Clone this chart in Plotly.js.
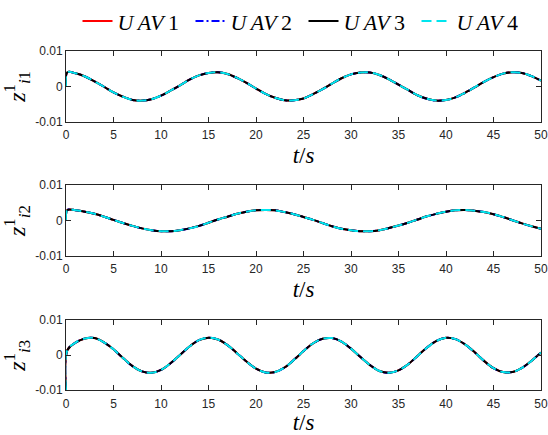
<!DOCTYPE html>
<html>
<head>
<meta charset="utf-8">
<script src="https://cdn.plot.ly/plotly-3.0.1.min.js"></script>
<style>html,body{margin:0;padding:0;background:#fff;}#chart{width:548px;height:435px;}</style>
</head>
<body>
<div id="chart"></div>
<script>
// time samples (s)
const time = [0, 0.15, 1, 2, 3, 4, 5, 6, 7, 8, 9, 10, 11, 12, 13, 14, 15, 16, 17, 18, 19, 20,
  21, 22, 23, 24, 25, 26, 27, 28, 29, 30, 31, 32, 33, 34, 35, 36, 37, 38, 39, 40,
  41, 42, 43, 44, 45, 46, 47, 48, 49, 50];

// z_{i1}^1 (all UAVs coincide)
const zi1 = [0, 0.0040,
  0.0037, 0.0028, 0.0014, -0.0001, -0.0017, -0.0029, -0.0038, -0.0040, -0.0036, -0.0026,
  -0.0012, 0.0003, 0.0019, 0.0031, 0.0038, 0.0040, 0.0035, 0.0024, 0.0010, -0.0006,
  -0.0021, -0.0032, -0.0039, -0.0039, -0.0034, -0.0022, -0.0008, 0.0008, 0.0023, 0.0034,
  0.0039, 0.0039, 0.0032, 0.0020, 0.0005, -0.0010, -0.0025, -0.0035, -0.0040, -0.0038,
  -0.0031, -0.0018, -0.0003, 0.0013, 0.0026, 0.0036, 0.0040, 0.0038, 0.0029, 0.0016];

// z_{i2}^1
const zi2 = [0, 0.0030,
  0.0029, 0.0025, 0.0019, 0.0011, 0.0002, -0.0007, -0.0015, -0.0022, -0.0027, -0.0030,
  -0.0030, -0.0027, -0.0022, -0.0015, -0.0006, 0.0003, 0.0011, 0.0019, 0.0025, 0.0029,
  0.0030, 0.0029, 0.0024, 0.0018, 0.0010, 0.0002, -0.0007, -0.0016, -0.0023, -0.0027,
  -0.0030, -0.0030, -0.0027, -0.0021, -0.0014, -0.0006, 0.0003, 0.0012, 0.0019, 0.0025,
  0.0029, 0.0030, 0.0028, 0.0024, 0.0018, 0.0010, 0.0001, -0.0008, -0.0016, -0.0023];

// z_{i3}^1
const zi3 = [-0.0100, 0.0015,
  0.0036, 0.0048, 0.0049, 0.0037, 0.0017, -0.0008, -0.0031, -0.0046, -0.0050, -0.0042,
  -0.0023, 0.0001, 0.0025, 0.0043, 0.0050, 0.0045, 0.0029, 0.0006, -0.0018, -0.0038,
  -0.0049, -0.0048, -0.0035, -0.0013, 0.0012, 0.0034, 0.0047, 0.0049, 0.0039, 0.0019,
  -0.0005, -0.0028, -0.0045, -0.0050, -0.0043, -0.0026, -0.0002, 0.0022, 0.0041, 0.0050,
  0.0046, 0.0031, 0.0009, -0.0016, -0.0037, -0.0048, -0.0048, -0.0036, -0.0016, 0.0008];

const seriesNames = ['<i>U\u2009AV</i>\u20091', '<i>U\u2009AV</i>\u20092', '<i>U\u2009AV</i>\u20093', '<i>U\u2009AV</i>\u20094'];
const panelData = [zi1, zi2, zi3];
const yTitles = ['<i>z</i><sup>1</sup><sub><i>i</i>1</sub>', '<i>z</i><sup>1</sup><sub><i>i</i>2</sub>', '<i>z</i><sup>1</sup><sub><i>i</i>3</sub>'];
const xTicks = [0, 5, 10, 15, 20, 25, 30, 35, 40, 45, 50];
const yTicks = [-0.01, 0, 0.01];
const yTickText = ['-0.01', '0', '0.01'];

const styles = [
  {color: '#ff0000', dash: 'solid'},
  {color: '#0000ff', dash: '8px,3px,2px,3px'},
  {color: '#000000', dash: 'solid'},
  {color: '#00e5ee', dash: '10px,5px'}
];

const traces = [];
panelData.forEach((vals, p) => {
  const ax = p === 0 ? '' : String(p + 1);
  styles.forEach((s, k) => {
    traces.push({
      x: time, y: vals, type: 'scatter', mode: 'lines',
      name: seriesNames[k], legendgroup: 'g' + k, showlegend: p === 0,
      xaxis: 'x' + ax, yaxis: 'y' + ax,
      line: {color: s.color, dash: s.dash, width: 2, shape: 'spline', smoothing: 1}
    });
  });
});

const domains = [[0.7402, 0.9080], [0.4230, 0.5908], [0.1057, 0.2713]];
const tickFont = {family: 'Liberation Sans, Arial, sans-serif', size: 12, color: '#262626'};
const titleFont = {family: 'Liberation Serif, Times New Roman, serif', size: 23, color: '#000'};

const layout = {
  width: 548, height: 435,
  margin: {l: 66, r: 7, t: 0, b: 0},
  paper_bgcolor: '#fff', plot_bgcolor: '#fff',
  showlegend: true,
  legend: {orientation: 'h', x: 0.5, xanchor: 'center', y: 1.028, yanchor: 'top',
    font: {family: 'Liberation Serif, Times New Roman, serif', size: 22, color: '#000'},
    bgcolor: 'rgba(0,0,0,0)', itemwidth: 30, tracegroupgap: 0,
    entrywidth: 68, entrywidthmode: 'pixels'},
};

for (let p = 0; p < 3; p++) {
  const ax = p === 0 ? '' : String(p + 1);
  layout['xaxis' + ax] = {
    domain: [0, 1], anchor: 'y' + ax, range: [0, 50],
    tickvals: xTicks, ticktext: xTicks.map(String),
    ticks: 'inside', ticklen: 5, tickcolor: '#262626', tickwidth: 1,
    showline: true, linecolor: '#262626', linewidth: 1, mirror: 'ticks',
    showgrid: false, zeroline: false, tickfont: tickFont, ticklabelstandoff: 2,
    title: {text: '<i>t</i>/<i>s</i>', font: titleFont, standoff: 5},
    automargin: false
  };
  layout['yaxis' + ax] = {
    domain: domains[p], anchor: 'x' + ax, range: [-0.01, 0.01],
    tickvals: yTicks, ticktext: yTickText,
    ticks: 'inside', ticklen: 5, tickcolor: '#262626', tickwidth: 1,
    showline: true, linecolor: '#262626', linewidth: 1, mirror: 'ticks',
    showgrid: false, zeroline: false, tickfont: tickFont,
    title: {text: yTitles[p], font: {family: 'Liberation Serif, Times New Roman, serif', size: 24, color: '#000'}, standoff: 5},
    automargin: false
  };
}

Plotly.newPlot('chart', traces, layout, {displayModeBar: false, staticPlot: true});
</script>
</body>
</html>
